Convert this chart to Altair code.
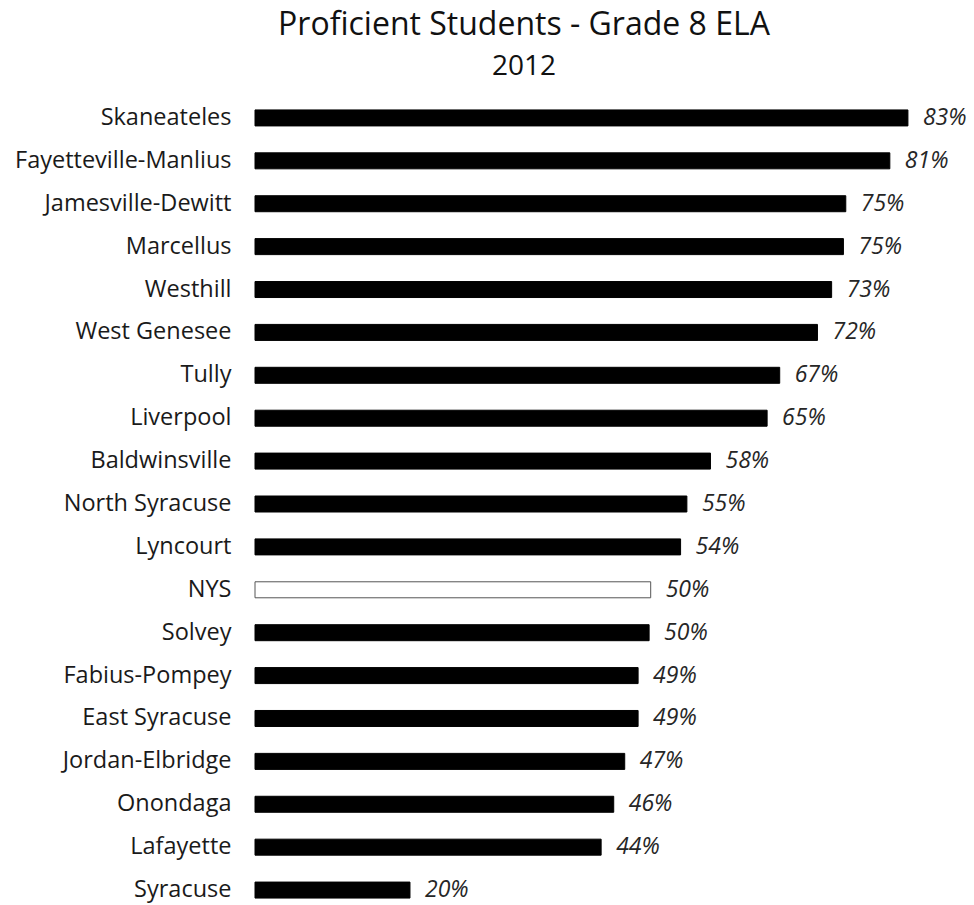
import altair as alt
import pandas as pd

names = ["Skaneateles", "Fayetteville-Manlius", "Jamesville-Dewitt", "Marcellus",
         "Westhill", "West Genesee", "Tully", "Liverpool", "Baldwinsville",
         "North Syracuse", "Lyncourt", "NYS", "Solvey", "Fabius-Pompey",
         "East Syracuse", "Jordan-Elbridge", "Onondaga", "Lafayette", "Syracuse"]
values = [83.0, 80.7, 75.1, 74.8, 73.3, 71.5, 66.7, 65.1, 57.9, 54.9, 54.1,
          50.3, 50.1, 48.7, 48.7, 47.0, 45.6, 44.0, 19.7]
labels = ["83%", "81%", "75%", "75%", "73%", "72%", "67%", "65%", "58%", "55%",
          "54%", "50%", "50%", "49%", "49%", "47%", "46%", "44%", "20%"]
kinds = ["state" if n == "NYS" else "school" for n in names]

df = pd.DataFrame({"name": names, "value": values, "label": labels, "kind": kinds})

FONT = "Open Sans"

y_enc = alt.Y(
    "name:N", sort=names, title=None,
    scale=alt.Scale(paddingInner=0.63, paddingOuter=0),
    axis=alt.Axis(domain=False, ticks=False, grid=False, labelFont=FONT,
                  labelFontSize=23.5, labelColor="#1a1a1a", labelPadding=24,
                  labelLimit=400),
)
x_enc = alt.X("value:Q", scale=alt.Scale(domain=[0, 90]), axis=None)

base = alt.Chart(df)

bars = base.mark_bar(size=16, strokeWidth=1).encode(
    y=y_enc,
    x=x_enc,
    color=alt.Color("kind:N", scale=alt.Scale(domain=["school", "state"],
                                              range=["#000000", "#ffffff"]), legend=None),
    stroke=alt.Stroke("kind:N", scale=alt.Scale(domain=["school", "state"],
                                                range=["#000000", "#555555"]), legend=None),
)

text = base.mark_text(align="left", baseline="middle", dx=15, font=FONT,
                      fontSize=23, fontStyle="italic", color="#262626").encode(
    y=alt.Y("name:N", sort=names),
    x="value:Q",
    text="label:N",
)

chart = (bars + text).properties(
    width=708,
    height=788,
    autosize=alt.AutoSizeParams(type="none"),
    padding={"left": 247, "top": 102, "right": 3, "bottom": 5},
    title=alt.TitleParams(
        text="Proficient Students - Grade 8 ELA",
        subtitle="2012",
        font=FONT, subtitleFont=FONT,
        fontSize=32, subtitleFontSize=28,
        fontWeight="normal", color="#111111", subtitleColor="#111111",
        anchor="middle", dx=-85, offset=23, subtitlePadding=11,
    ),
).configure_view(stroke=None)

chart.save("out.html", embed_options={"renderer": "svg", "actions": False})
